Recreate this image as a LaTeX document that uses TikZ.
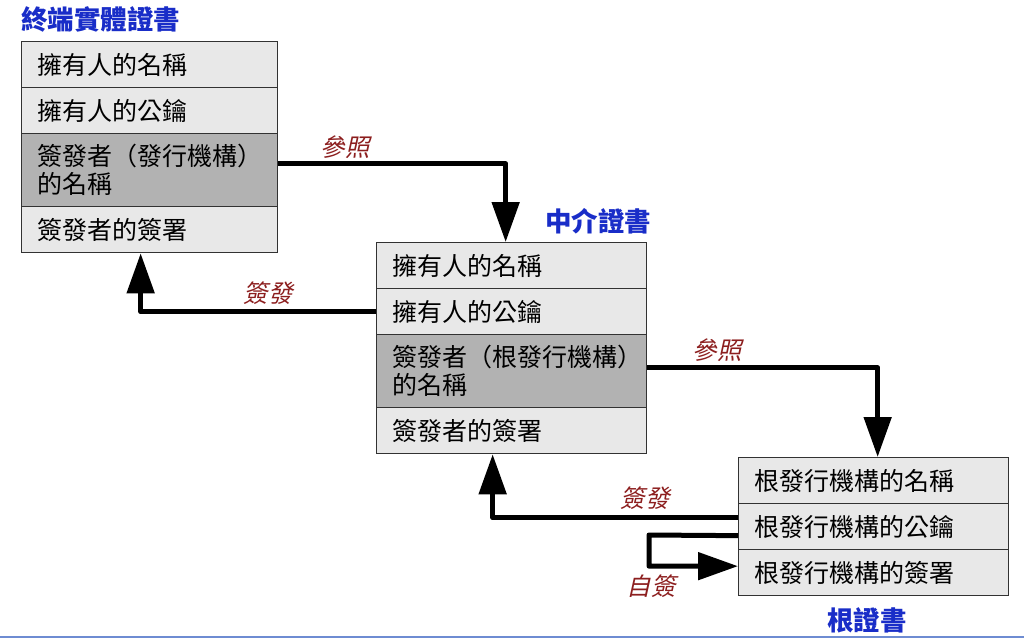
\documentclass[tikz,border=0pt]{standalone}
\usepackage{fontspec}
\setmainfont{Noto Sans CJK TC}
\newfontfamily\labfont[FakeSlant=0.22]{Noto Sans CJK TC}
\usetikzlibrary{arrows.meta}
\definecolor{titleblue}{RGB}{25,45,200}
\definecolor{labred}{RGB}{140,30,30}
\definecolor{lightrow}{RGB}{232,232,232}
\definecolor{darkrow}{RGB}{178,178,178}
\definecolor{border}{RGB}{50,50,50}
\definecolor{edgeblue}{RGB}{110,140,210}
\tikzset{
  rowbox/.style={draw=border, line width=1.3pt, fill=lightrow, anchor=north west,
    text width=224pt, inner xsep=16pt, inner ysep=0pt, align=left,
    minimum height=46pt, font=\fontsize{25}{28}\selectfont},
  rowboxwide/.style={rowbox, text width=238pt},
  darkbox/.style={fill=darkrow, minimum height=73pt},
  conn/.style={line width=5pt, line join=round, -{Triangle[width=27pt,length=40pt]}},
  titletext/.style={text=titleblue, font=\fontsize{26.5}{28}\selectfont\bfseries, inner sep=0pt},
  labtext/.style={text=labred, font=\fontsize{24.5}{28}\selectfont\labfont, inner sep=0pt}
}
\begin{document}
\begin{tikzpicture}[x=1pt,y=-1pt]
\useasboundingbox (0,0) rectangle (1024,638);
% end entity certificate
\node[titletext, anchor=west] (t1) at (21,19) {終端實體證書};
\node[rowbox] (a1) at (21,41) {擁有人的名稱};
\node[rowbox] (a2) at (21,87) {擁有人的公鑰};
\node[rowbox, darkbox] (a3) at (21,133) {簽發者（發行機構）\\的名稱};
\node[rowbox] (a4) at (21,206) {簽發者的簽署};
% intermediate
\node[titletext] (t2) at (598,221) {中介證書};
\node[rowboxwide] (b1) at (376,242) {擁有人的名稱};
\node[rowboxwide] (b2) at (376,288) {擁有人的公鑰};
\node[rowboxwide, darkbox] (b3) at (376,334) {簽發者（根發行機構）\\的名稱};
\node[rowboxwide] (b4) at (376,407) {簽發者的簽署};
% root
\node[rowboxwide] (c1) at (738,457) {根發行機構的名稱};
\node[rowboxwide] (c2) at (738,503) {根發行機構的公鑰};
\node[rowboxwide] (c3) at (738,549) {根發行機構的簽署};
\node[titletext] (t3) at (867,620) {根證書};
% connectors
\draw[conn] ([yshift=6.5pt]a3.east) -| ([xshift=-6pt]b1.north);
\draw[conn] (b2.west) -| ([xshift=-9pt]a4.south);
\draw[conn] ([yshift=3.5pt]b3.east) -| ([xshift=4pt]c1.north);
\draw[conn] ([yshift=9pt]c2.west) -| ([xshift=-19pt]b4.south);
\coordinate (loopl) at (649,535);
\draw[conn] ([yshift=-9pt]c2.west) -- (loopl) |- ([yshift=6.5pt]c3.west);
% labels
\node[labtext] (l1) at (345,147) {參照};
\node[labtext] (l2) at (268,293) {簽發};
\node[labtext] (l3) at (717,350) {參照};
\node[labtext] (l4) at (645,498) {簽發};
\node[labtext] (l5) at (651,586) {自簽};
% bottom edge line
\coordinate (e1) at (0,637);
\coordinate (e2) at (1024,637);
\draw[edgeblue, line width=1.2pt] (e1) -- (e2);
\end{tikzpicture}
\end{document}
